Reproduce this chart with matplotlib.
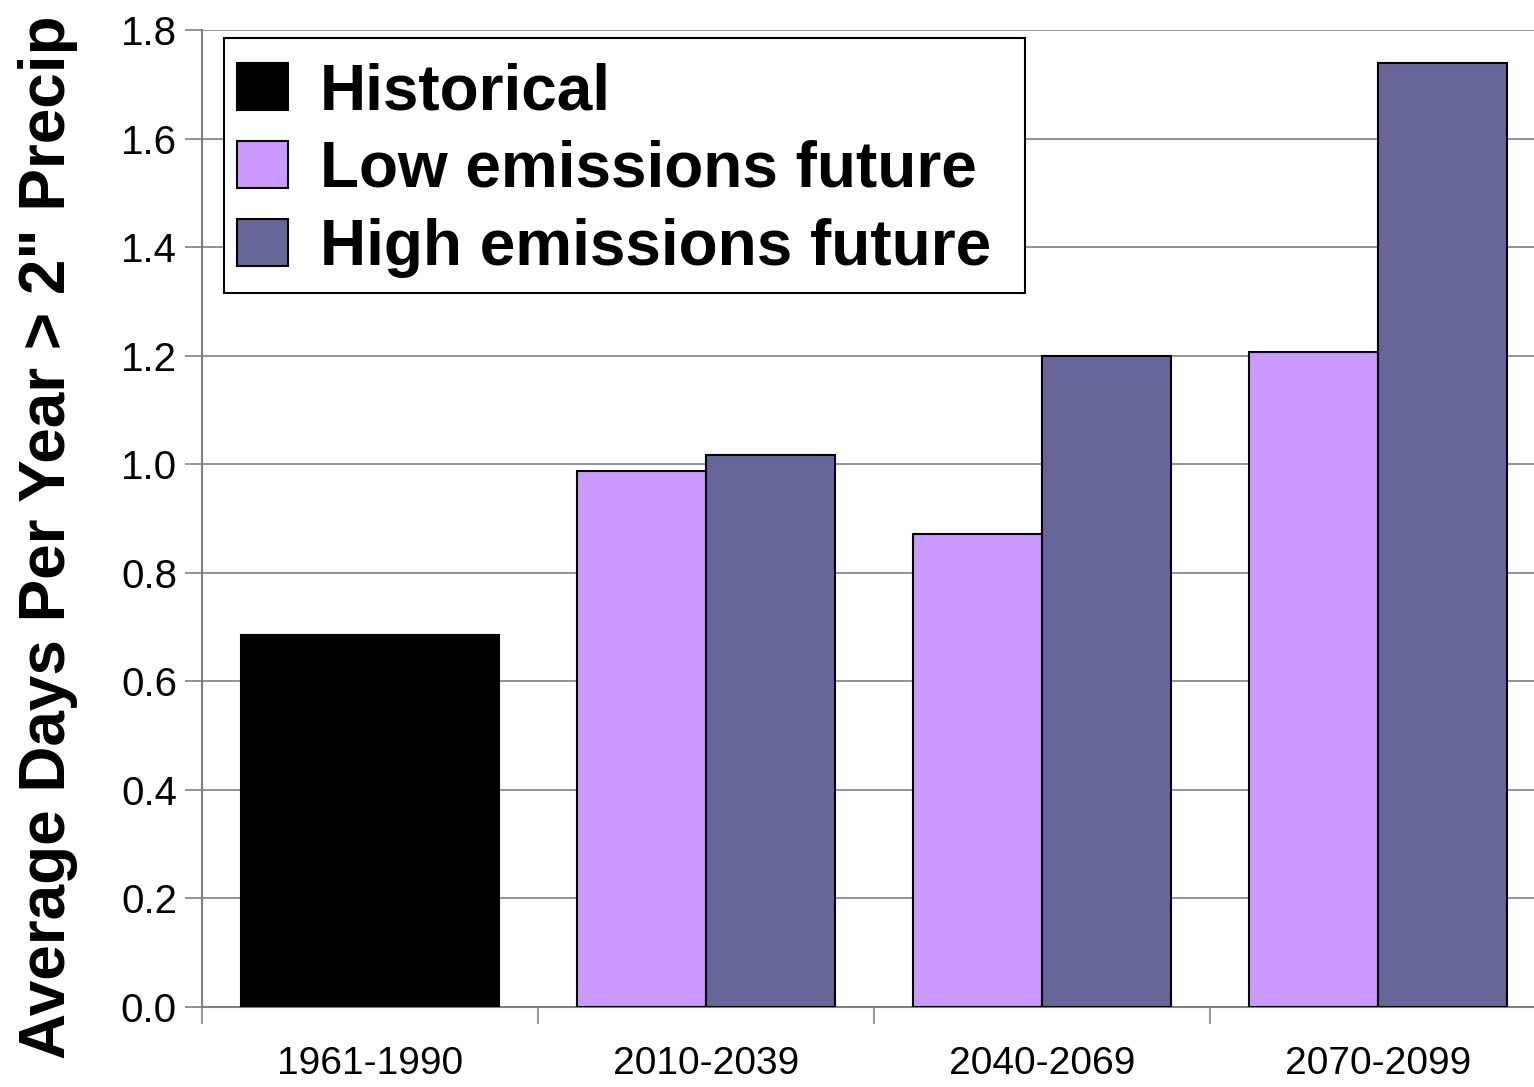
import numpy as np
import matplotlib.pyplot as plt
from matplotlib.patches import Patch, Rectangle

plt.rcParams['font.family'] = ['Liberation Sans', 'DejaVu Sans']

# data
periods = ['1961-1990', '2010-2039', '2040-2069', '2070-2099']
historical = [0.685]
low_emissions = [0.988, 0.872, 1.206]
high_emissions = [1.017, 1.200, 1.740]
y_ticks = [0.0, 0.2, 0.4, 0.6, 0.8, 1.0, 1.2, 1.4, 1.6, 1.8]

hist_color = '#000000'
low_color = '#CC99FF'
high_color = '#666699'

fig = plt.figure(figsize=(15.34, 10.87), dpi=100)
ax = fig.add_axes([202 / 1534, 1 - 1007 / 1087, 1344 / 1534, 977 / 1087])

x = np.arange(len(periods))
w = 0.384

# historical bar sits alone in the first group
ax.bar(x[:1], historical, width=2 * w, color=hist_color, edgecolor='black', linewidth=1.5, zorder=3)
ax.bar(x[1:] - w / 2, low_emissions, width=w, color=low_color, edgecolor='black', linewidth=1.5, zorder=3)
ax.bar(x[1:] + w / 2, high_emissions, width=w, color=high_color, edgecolor='black', linewidth=1.5, zorder=3)

ax.set_xlim(-0.5, len(periods) - 0.5)
ax.set_ylim(0, 1.8)
ax.set_yticks(y_ticks)
ax.set_yticklabels(['{:.1f}'.format(v) for v in y_ticks])
ax.yaxis.grid(True, color='#808080', linewidth=1.2, zorder=0)
ax.set_axisbelow(True)

ax.set_xticks(x)
ax.set_xticklabels(periods)
ax.set_xticks(np.arange(len(periods) + 1) - 0.5, minor=True)
ax.tick_params(axis='x', which='major', length=0, pad=28, labelsize=28)
ax.tick_params(axis='x', which='minor', length=12, width=1.2, color='#808080', direction='out')
ax.tick_params(axis='y', length=12, width=1.2, color='#808080', direction='out', labelsize=29, pad=6)

for side in ['top', 'right']:
    ax.spines[side].set_visible(False)
for side in ['left', 'bottom']:
    ax.spines[side].set_color('#808080')
    ax.spines[side].set_linewidth(1.5)

fig.text(0.031, 0.506, 'Average Days Per Year > 2" Precip', rotation=90,
         ha='center', va='center', fontsize=46, fontweight='bold')

# legend box drawn separately so the padding matches the original
ax_w, ax_h = 1344.0, 977.0
box = Rectangle((22 / ax_w, (1007 - 293) / ax_h), (1025 - 224) / ax_w, (293 - 38) / ax_h,
                transform=ax.transAxes, facecolor='white', edgecolor='black',
                linewidth=1.5, zorder=4)
ax.add_patch(box)

handles = [Patch(facecolor=hist_color, edgecolor='black', linewidth=1.5),
           Patch(facecolor=low_color, edgecolor='black', linewidth=1.5),
           Patch(facecolor=high_color, edgecolor='black', linewidth=1.5)]
labels = ['Historical', 'Low emissions future', 'High emissions future']
leg = ax.legend(handles, labels, loc='upper left', bbox_to_anchor=(35 / ax_w, (1007 - 62) / ax_h),
                prop={'size': 46, 'weight': 'bold'}, frameon=False,
                handlelength=0.8, handleheight=0.75,
                handletextpad=0.5, borderpad=0, labelspacing=0.28, borderaxespad=0)
leg.set_zorder(5)

fig.savefig('out.png', dpi=100)
